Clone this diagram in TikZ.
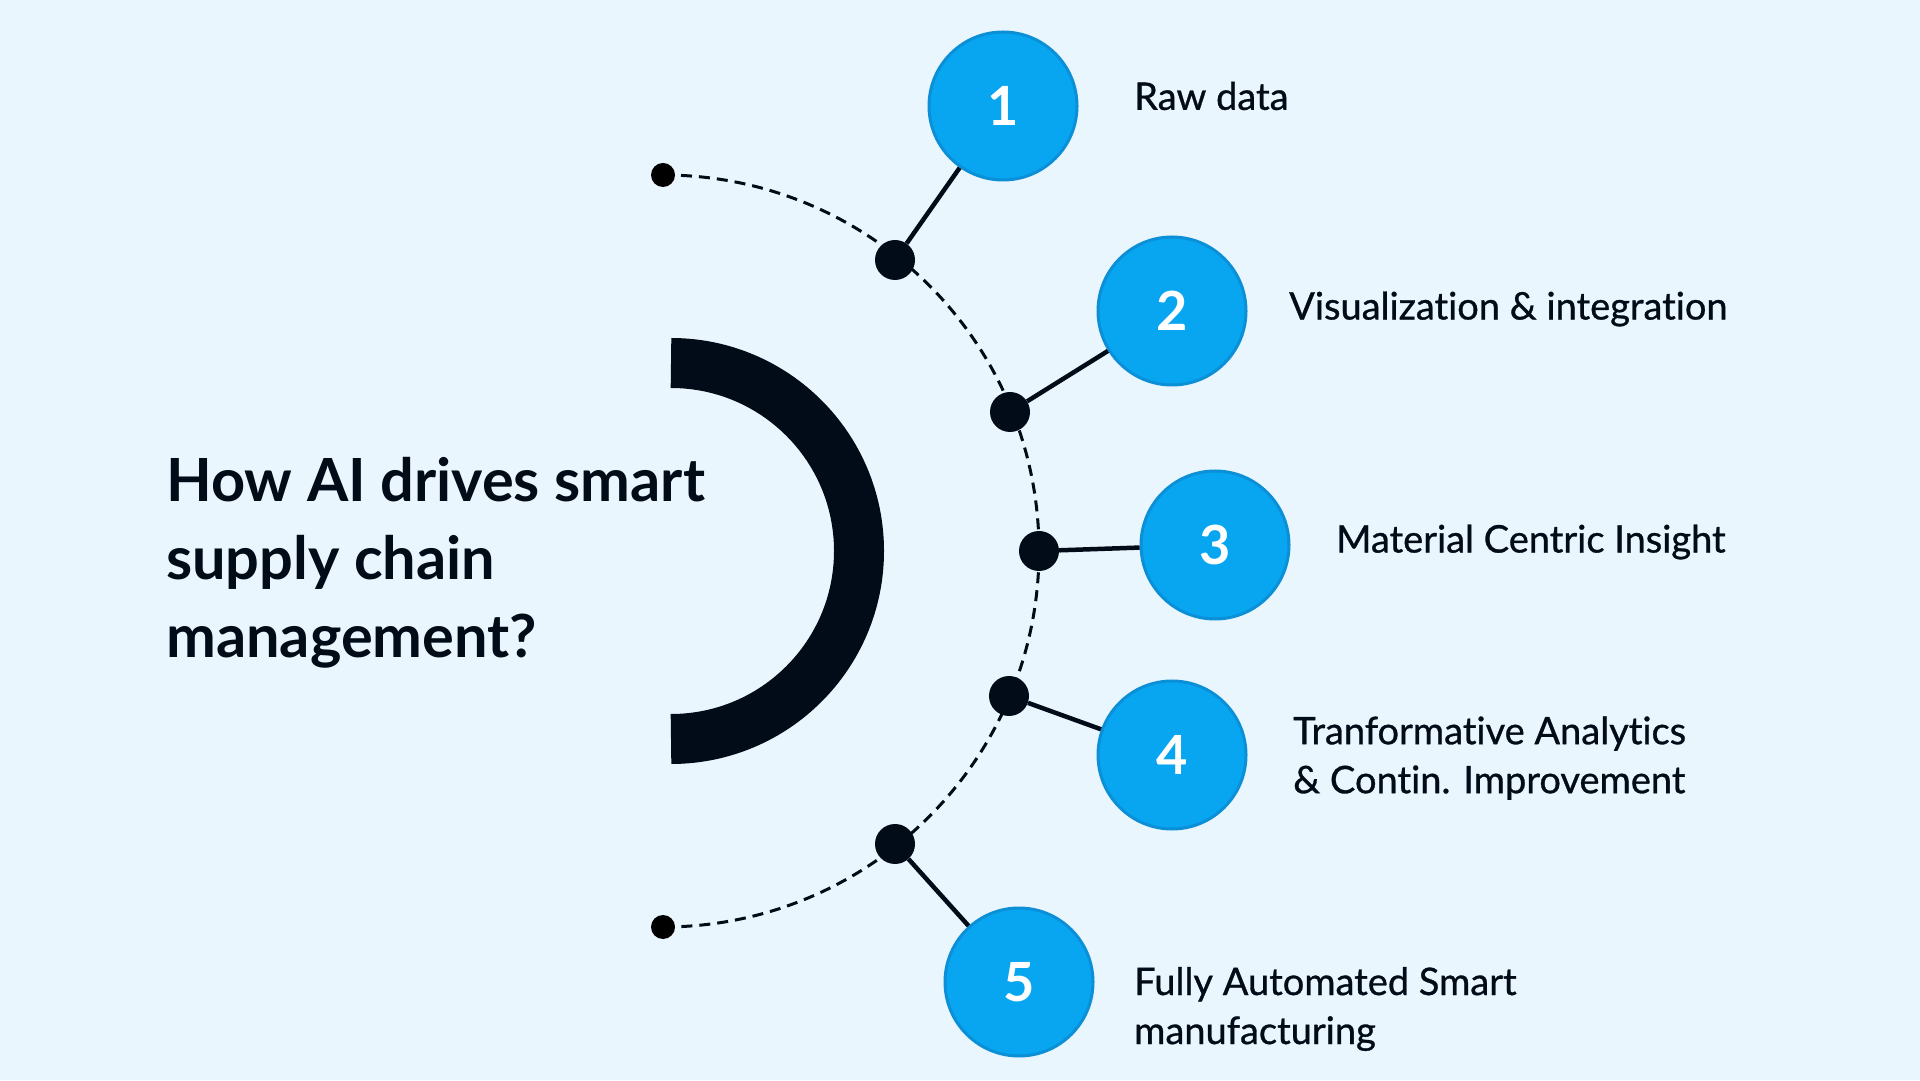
\documentclass[tikz,border=0pt]{standalone}
\usepackage{fontspec}
\setmainfont{Lato}[Ligatures=NoCommon]
\newfontfamily\medfont{Lato}[Ligatures=NoCommon,FakeBold=0.8]
\usetikzlibrary{positioning}
\definecolor{bg}{HTML}{EAF6FE}
\definecolor{nblue}{HTML}{08A5F1}
\definecolor{nedge}{HTML}{0B8FD6}
\definecolor{ink}{HTML}{020B18}
\tikzset{num/.style={draw=nedge,fill=nblue,circle,line width=3,minimum size=148,inner sep=0,text=white,font=\bfseries\fontsize{54}{54}\selectfont},dot/.style={circle,fill=ink,minimum size=40,inner sep=0},tipdot/.style={circle,fill=black,minimum size=24,inner sep=0},lbl/.style={anchor=west,align=left,inner sep=0,text=ink,font=\medfont\fontsize{38}{49}\selectfont},ttl/.style={anchor=west,align=left,inner sep=0,text=ink,font=\bfseries\fontsize{59.5}{78}\selectfont},conn/.style={line width=4.5,ink}}
\begin{document}
\begin{tikzpicture}[x=1pt,y=1pt]
\fill[bg](0,0)rectangle(1920,1080);\useasboundingbox(0,0)rectangle(1920,1080);
\draw[ink,line width=50](671,717)arc[start angle=90,end angle=-90,radius=188];
\draw[ink,line width=3,dash pattern=on 11pt off 7pt](663,905)arc[start angle=90,end angle=-90,radius=376];
\node[tipdot](e1)at(663,905){};\node[tipdot](e2)at(663,153){};
\node[dot](d1)at(895,820){};\node[dot](d2)at(1010,668){};\node[dot](d3)at(1039,529){};\node[dot](d4)at(1009,384){};\node[dot](d5)at(895,236){};
\node[num](c1)at(1003,974){1};\node[num](c2)at(1172,769){2};\node[num](c3)at(1215,535){3};\node[num](c4)at(1172,325){4};\node[num](c5)at(1019,98){5};
\foreach\a/\b in{d1/c1,d2/c2,d3/c3,d4/c4,d5/c5}\draw[conn](\a)--(\b);
\node[ttl](t)at(166,517){How AI drives smart\\supply chain\\management?};
\node[lbl](l1)at(1134,984){Raw data};
\node[lbl](l2)at(1289,771){Visualization \& integration};
\node[lbl](l3)at(1336,538){Material Centric Insight};
\node[lbl](l4)at(1293,322){Tranformative Analytics\\\& Contin. Improvement};
\node[lbl](l5)at(1134,71){Fully Automated Smart\\manufacturing};
\end{tikzpicture}
\end{document}
